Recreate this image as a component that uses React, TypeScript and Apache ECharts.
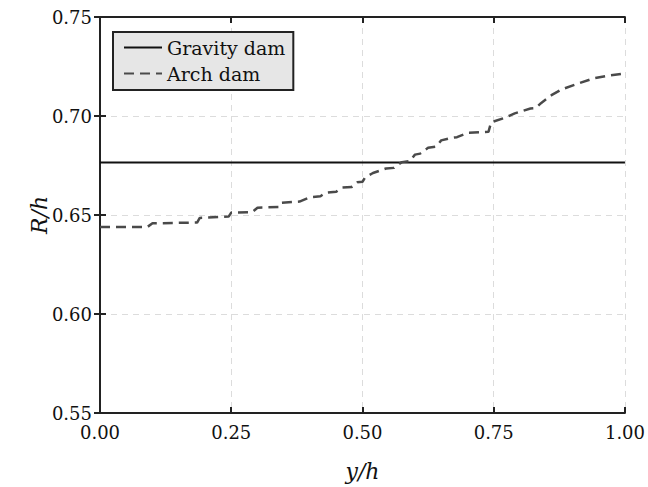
import React, { useEffect, useRef } from "react";
import * as echarts from "echarts";

const xTicks = [0, 0.25, 0.5, 0.75, 1.0];
const yTicks = [0.55, 0.6, 0.65, 0.7, 0.75];
const gravityX = [0, 1];
const gravityR = [0.6765, 0.6765];
const archX = [0, 0.09, 0.1, 0.185, 0.19, 0.245, 0.25, 0.29, 0.3, 0.34, 0.345, 0.38, 0.4, 0.42, 0.43, 0.45, 0.46, 0.48, 0.49, 0.5, 0.505, 0.52, 0.545, 0.56, 0.575, 0.59, 0.6, 0.61, 0.625, 0.64, 0.65, 0.67, 0.68, 0.7, 0.74, 0.745, 0.77, 0.79, 0.82, 0.83, 0.84, 0.86, 0.88, 0.91, 0.94, 0.97, 1.0];
const archR = [0.6439, 0.6439, 0.6458, 0.6462, 0.6485, 0.6492, 0.6512, 0.6515, 0.6537, 0.654, 0.6562, 0.6568, 0.659, 0.6595, 0.6613, 0.6618, 0.6638, 0.6642, 0.6665, 0.6668, 0.669, 0.6712, 0.6735, 0.6738, 0.6767, 0.6772, 0.6805, 0.681, 0.684, 0.6845, 0.6877, 0.689, 0.6893, 0.6915, 0.692, 0.6968, 0.699, 0.7013, 0.7038, 0.704, 0.7065, 0.7105, 0.7135, 0.7163, 0.719, 0.7205, 0.7215];

const FONT = "'DejaVu Serif', 'Liberation Serif', serif";

export default function App() {
  const ref = useRef<HTMLDivElement>(null);
  useEffect(() => {
    if (!ref.current) return;
    const chart = echarts.init(ref.current, null, { renderer: "svg" });
    const axisLine = { show: true, lineStyle: { color: "#222", width: 2 } };
    const tick = { show: true, inside: true, length: 6, lineStyle: { color: "#222", width: 2 } };
    const fmt = (v: number) => v.toFixed(2);
    chart.setOption({
      animation: false,
      backgroundColor: "#fff",
      textStyle: { fontFamily: FONT },
      grid: { left: 100, right: 21, top: 17, bottom: 70, containLabel: false },
      legend: {
        left: 113,
        top: 32,
        orient: "vertical",
        backgroundColor: "#e6e6e6",
        borderColor: "#222",
        borderWidth: 2,
        borderRadius: 0,
        padding: [6, 8, 7, 10],
        itemGap: 7,
        itemWidth: 38,
        itemHeight: 14,
        itemStyle: { color: "transparent", borderWidth: 0 },
        textStyle: { fontFamily: FONT, fontSize: 19, color: "#111" },
        data: ["Gravity dam", "Arch dam"],
      },
      xAxis: [
        {
          type: "value", min: 0, max: 1, interval: 0.25, position: "bottom",
          axisLine, axisTick: tick,
          axisLabel: { formatter: fmt, fontFamily: FONT, fontSize: 18, color: "#111", margin: 10, showMaxLabel: true, showMinLabel: true },
          splitLine: { show: true, lineStyle: { color: "#dcdcdc", type: [6, 5], width: 1 } },
          name: "y/h", nameLocation: "middle", nameGap: 47, nameMoveOverlap: false,
          nameTextStyle: { fontFamily: FONT, fontStyle: "italic", fontSize: 22, color: "#111" },
        },
        {
          type: "value", min: 0, max: 1, interval: 0.25, position: "top",
          axisLine, axisTick: tick, axisLabel: { show: false }, splitLine: { show: false },
        },
      ],
      yAxis: [
        {
          type: "value", min: 0.55, max: 0.75, interval: 0.05, position: "left",
          axisLine, axisTick: tick,
          axisLabel: { formatter: fmt, fontFamily: FONT, fontSize: 18, color: "#111", margin: 8 },
          splitLine: { show: true, lineStyle: { color: "#dcdcdc", type: [6, 5], width: 1 } },
          name: "R/h", nameLocation: "middle", nameGap: 50, nameMoveOverlap: false,
          nameTextStyle: { fontFamily: FONT, fontStyle: "italic", fontSize: 22, color: "#111" },
        },
        {
          type: "value", min: 0.55, max: 0.75, interval: 0.05, position: "right",
          axisLine, axisTick: tick, axisLabel: { show: false }, splitLine: { show: false },
        },
      ],
      series: [
        {
          name: "Gravity dam", type: "line", symbol: "none",
          data: gravityX.map((x, i) => [x, gravityR[i]]),
          lineStyle: { color: "#111", width: 2, type: "solid" },
          itemStyle: { color: "#111" },
        },
        {
          name: "Arch dam", type: "line", symbol: "none",
          data: archX.map((x, i) => [x, archR[i]]),
          lineStyle: { color: "#4a4a4a", width: 2.5, type: [10, 6] },
          itemStyle: { color: "#4a4a4a" },
        },
      ],
    });
    return () => chart.dispose();
  }, []);
  return <div ref={ref} style={{ position: "fixed", left: 0, top: 0, width: 648, height: 487 }} />;
}
